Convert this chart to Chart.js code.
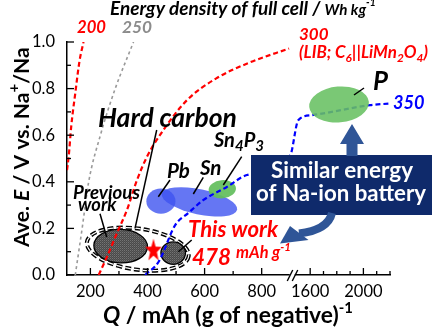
<!DOCTYPE html>
<html>
<head>
<meta charset="utf-8">
<script src="https://cdn.jsdelivr.net/npm/chart.js@4.4.1/dist/chart.umd.min.js"></script>
<style>
html,body{margin:0;padding:0;background:#fff;overflow:hidden}
#c{display:block}
</style>
</head>
<body>
<canvas id="c" width="432" height="334" style="width:432px;height:334px"></canvas>
<script>
// ---------------- data ----------------
// iso-energy-density curves of the full cell (Wh/kg): capacity (mAh/g) vs. average potential (V)
const curve200X = [118, 124, 133, 147, 162, 176];
const curve200Y = [0.45, 0.51, 0.64, 0.78, 0.92, 1.0];
const curve250X = [147, 171, 194, 235, 287, 351];
const curve250Y = [0.0, 0.20, 0.40, 0.60, 0.80, 1.0];
const curve300X = [229, 258, 293, 328, 363, 398, 455, 538, 641, 760, 896];
const curve300Y = [0.0, 0.078, 0.180, 0.279, 0.407, 0.507, 0.621, 0.750, 0.844, 0.913, 0.972];
const curve350X = [392, 439, 497, 543, 595, 678, 748, 900, 1510, 1613, 2050, 2200];
const curve350Y = [0.0, 0.057, 0.214, 0.266, 0.321, 0.378, 0.429, 0.514, 0.664, 0.686, 0.729, 0.736];

// material regions (ellipses): centre capacity / potential and half-spreads
const regionNames      = ['Previous + this work', 'Hard carbon (previous)', 'Hard carbon (this work)', 'Pb', 'Sn', 'Sn4P3', 'P'];
const regionCapacity   = [366, 306, 490, 447, 582, 662, 1817];
const regionVoltage    = [0.111, 0.124, 0.094, 0.317, 0.314, 0.368, 0.732];
const regionCapSpread  = [180, 94, 43, 51, 135, 48, 225];
const regionVoltSpread = [0.088, 0.072, 0.048, 0.054, 0.054, 0.039, 0.077];

// red star point
const starCapacity = [421];
const starVoltage  = [0.107];

// tick labels
const xTickLabels = [200, 400, 600, 800, 1600, 2000];
const yTickLabels = [0.0, 0.2, 0.4, 0.6, 0.8, 1.0];

// ---------------- broken x axis ----------------
const BREAK_LO = 900, BREAK_HI = 1450, RIGHT_K = 0.466;
function u(x) { return x <= BREAK_LO ? x : BREAK_LO + (x - BREAK_HI) * RIGHT_K; }
function uInv(v) { return v <= BREAK_LO ? v : BREAK_HI + (v - BREAK_LO) / RIGHT_K; }
const xTickValues = [];
for (let v = 200; v <= 800; v += 100) xTickValues.push(v);
for (let v = 1600; v <= 2200; v += 100) xTickValues.push(v);
const yTickValues = [];
for (let k = 0; k <= 10; k++) yTickValues.push(k / 10);

const FONT = 'Lato, "Liberation Sans", sans-serif';
const RED = '#ff0000', BLUE = '#0000ff', GRAY = '#9a9a9a', ARROW = '#2f5597', NAVY = '#0f2a6b';

// ---------------- styles ----------------
const regionStyle = {
  'Previous + this work':   { stroke: '#000', dash: [6, 3], width: 4, double: true, rot: 8 },
  'Hard carbon (previous)': { fill: 'pattern', stroke: '#000', width: 1.3, rot: 2 },
  'Hard carbon (this work)':{ fill: 'pattern', stroke: '#000', width: 1.3, rot: 0 },
  'Pb':    { fill: 'rgba(62,84,240,0.8)', rot: 0 },
  'Sn':    { fill: 'rgba(62,84,240,0.8)', rot: 12 },
  'Sn4P3': { fill: 'rgba(98,190,92,0.92)', rot: -5 },
  'P':     { fill: 'rgba(104,192,98,0.88)', rot: -5, layer: 'over' }
};

function grayPattern(ctx) {
  const c = document.createElement('canvas'); c.width = 2; c.height = 2;
  const g = c.getContext('2d');
  g.fillStyle = '#4a4a4a'; g.fillRect(0, 0, 2, 2);
  g.fillStyle = '#747474'; g.fillRect(0, 0, 1, 1);
  g.fillStyle = '#5c5c5c'; g.fillRect(1, 1, 1, 1);
  return ctx.createPattern(c, 'repeat');
}

function starImage() {
  const c = document.createElement('canvas'); c.width = 20; c.height = 26;
  const g = c.getContext('2d');
  g.fillStyle = RED; g.beginPath();
  for (let k = 0; k < 10; k++) {
    const r = k % 2 ? 5 : 12;
    const a = -Math.PI / 2 + k * Math.PI / 5;
    g.lineTo(10 + r * Math.cos(a) * 0.72, 13.5 + r * Math.sin(a));
  }
  g.closePath(); g.fill();
  return c;
}

function curve(label, xs, ys, color, dash, width) {
  return {
    label, showLine: true, data: xs.map((x, i) => ({ x: u(x), y: ys[i] })),
    borderColor: color, borderWidth: width, borderDash: dash, pointRadius: 0,
    cubicInterpolationMode: 'monotone', fill: false
  };
}

// ---------------- text helper ----------------
function richText(ctx, segs, x, y, o) {
  const fam = o.family || FONT;
  const fontFor = (sz, ital) => `${ital ? 'italic ' : ''}${o.weight || 'bold'} ${sz}px ${fam}`;
  let base = o.size;
  const measure = (b) => segs.reduce((w, s) => {
    ctx.font = fontFor(b * (s[1] || 1), s[3] !== undefined ? s[3] : o.italic);
    return w + ctx.measureText(s[0]).width;
  }, 0);
  if (o.width) base = base * o.width / measure(base);
  let cx = x;
  ctx.fillStyle = o.color || '#000';
  ctx.textBaseline = 'alphabetic'; ctx.textAlign = 'left';
  for (const s of segs) {
    const sz = base * (s[1] || 1);
    ctx.font = fontFor(sz, s[3] !== undefined ? s[3] : o.italic);
    const dy = s[2] === 'sub' ? base * 0.22 : s[2] === 'sup' ? -base * 0.45 : 0;
    ctx.fillText(s[0], cx, y + dy);
    cx += ctx.measureText(s[0]).width;
  }
}

// annotation texts (placement in canvas pixels)
const notes = [
  { segs: [['Energy density of full cell / '], ['Wh kg', 0.8], ['-1', 0.55, 'sup']], x: 110, y: 14.5, w: 266, size: 16, italic: true },
  { segs: [['200']], x: 77, y: 33, w: 29, size: 16, italic: true, color: RED },
  { segs: [['250']], x: 122, y: 33, w: 30, size: 16, italic: true, color: '#8c8c8c' },
  { segs: [['300']], x: 299, y: 39.5, w: 29.5, size: 16, italic: true, color: RED },
  { segs: [['(LIB; C'], ['6', 0.7, 'sub'], ['||LiMn'], ['2', 0.7, 'sub'], ['O'], ['4', 0.7, 'sub'], [')']], x: 299, y: 58, w: 129, size: 13, italic: true, color: RED },
  { segs: [['P']], x: 373, y: 90, w: 15, size: 20, italic: true },
  { segs: [['350']], x: 393, y: 108.5, w: 31.5, size: 16, italic: true, color: BLUE },
  { segs: [['Hard carbon']], x: 98, y: 127, w: 139, size: 24, italic: true },
  { segs: [['Sn'], ['4', 0.75, 'sub'], ['P'], ['3', 0.75, 'sub']], x: 214, y: 147, w: 50, size: 19, italic: true },
  { segs: [['Sn']], x: 200, y: 175, size: 20.5, italic: true },
  { segs: [['Pb']], x: 167, y: 178, size: 20.5, italic: true },
  { segs: [['Previous']], x: 73, y: 198.5, w: 67, size: 15, italic: true },
  { segs: [['work']], x: 78, y: 211, w: 38.5, size: 15, italic: true },
  { segs: [['This work']], x: 188, y: 237, w: 90, size: 20, italic: true, color: RED },
  { segs: [['478']], x: 192, y: 265, w: 39, size: 25, italic: true, color: RED },
  { segs: [['mAh g'], ['-1', 0.7, 'sup']], x: 236, y: 258, w: 55, size: 13, italic: true, color: RED },
  { segs: [['Similar energy']], x: 271, y: 178, w: 142, size: 20, color: '#fff' },
  { segs: [['of Na-ion battery']], x: 256, y: 200.5, w: 170, size: 20, color: '#fff' },
  { segs: [['Q', 1, '', true], [' / mAh (g of negative)'], ['-1', 0.65, 'sup']], x: 103, y: 323, w: 250, size: 20 }
];
const yTitle = { segs: [['Ave. '], ['E', 1, '', true], [' / V vs. Na'], ['+', 0.7, 'sup'], ['/Na']], bx: 29, by: 247, w: 200, size: 20 };

// leader lines (canvas pixels)
const leaders = [
  [354, 95, 364, 88], [156.7, 130, 135, 228.3], [241.7, 156.7, 223.3, 185],
  [203.3, 177.3, 193.3, 194], [170, 180, 158.3, 196.7], [100, 213.7, 106.7, 237],
  [178.3, 251.7, 191.7, 240]
];

function drawRegions(chart, layer) {
  const { ctx } = chart; const xs = chart.scales.x, ys = chart.scales.y;
  regionNames.forEach((name, i) => {
    const st = regionStyle[name];
    if ((st.layer || 'under') !== layer) return;
    const cx = xs.getPixelForValue(u(regionCapacity[i]));
    const cy = ys.getPixelForValue(regionVoltage[i]);
    const rx = Math.abs(xs.getPixelForValue(u(regionCapacity[i] + regionCapSpread[i])) - cx);
    const ry = Math.abs(ys.getPixelForValue(regionVoltage[i] + regionVoltSpread[i]) - cy);
    ctx.save();
    ctx.beginPath();
    ctx.ellipse(cx, cy, rx, ry, (st.rot || 0) * Math.PI / 180, 0, 2 * Math.PI);
    if (st.fill) { ctx.fillStyle = st.fill === 'pattern' ? grayPattern(ctx) : st.fill; ctx.fill(); }
    if (st.stroke) {
      ctx.setLineDash(st.dash || []); ctx.lineWidth = st.width; ctx.strokeStyle = st.stroke; ctx.stroke();
      if (st.double) { ctx.lineWidth = 1.2; ctx.strokeStyle = '#fff'; ctx.stroke(); }
    }
    ctx.restore();
  });
}

const decor = {
  id: 'decor',
  beforeDatasetsDraw(chart) { drawRegions(chart, 'under'); },
  afterDatasetsDraw(chart) {
    const { ctx, chartArea: ca } = chart; const xs = chart.scales.x, ys = chart.scales.y;
    drawRegions(chart, 'over');
    ctx.save();
    // inward ticks
    ctx.strokeStyle = '#000'; ctx.lineWidth = 1.3; ctx.setLineDash([]);
    ys.ticks.forEach(t => {
      const major = yTickLabels.some(v => Math.abs(v - t.value) < 1e-6);
      const py = ys.getPixelForValue(t.value);
      ctx.beginPath(); ctx.moveTo(ca.left, py); ctx.lineTo(ca.left + (major ? 7 : 4), py); ctx.stroke();
    });
    xs.ticks.forEach(t => {
      const val = Math.round(uInv(t.value));
      const major = xTickLabels.includes(val);
      const px = xs.getPixelForValue(t.value);
      ctx.beginPath(); ctx.moveTo(px, ca.bottom); ctx.lineTo(px, ca.bottom - (major ? 7 : 4)); ctx.stroke();
    });
    // axis break
    const bx = xs.getPixelForValue(BREAK_LO);
    ctx.fillStyle = '#fff'; ctx.fillRect(bx - 0.5, ca.bottom - 3, 5, 6);
    ctx.lineWidth = 1.4;
    ctx.beginPath(); ctx.moveTo(bx - 3, ca.bottom + 6); ctx.lineTo(bx + 2.5, ca.bottom - 5); ctx.stroke();
    ctx.beginPath(); ctx.moveTo(bx + 2, ca.bottom + 6); ctx.lineTo(bx + 7.5, ca.bottom - 5); ctx.stroke();
    // leader lines
    ctx.lineWidth = 1.5; ctx.strokeStyle = '#000';
    leaders.forEach(l => { ctx.beginPath(); ctx.moveTo(l[0], l[1]); ctx.lineTo(l[2], l[3]); ctx.stroke(); });
    // message box
    ctx.fillStyle = NAVY; ctx.fillRect(251, 155, 181, 60);
    // up arrow
    ctx.fillStyle = ARROW;
    ctx.beginPath();
    [[352, 124], [364, 144], [357.5, 144], [357.5, 156], [346.5, 156], [346.5, 144], [340, 144]].forEach((p, k) => k ? ctx.lineTo(p[0], p[1]) : ctx.moveTo(p[0], p[1]));
    ctx.closePath(); ctx.fill();
    // curved arrow
    ctx.strokeStyle = ARROW; ctx.lineWidth = 8; ctx.lineCap = 'butt';
    ctx.beginPath(); ctx.moveTo(332, 213); ctx.quadraticCurveTo(328, 230, 299, 233.5); ctx.stroke();
    ctx.beginPath(); ctx.moveTo(280, 243.5); ctx.lineTo(290, 226); ctx.lineTo(308.5, 240); ctx.closePath(); ctx.fill();
    // texts
    notes.forEach(n => richText(ctx, n.segs, n.x, n.y, { width: n.w, size: n.size, italic: n.italic, color: n.color }));
    ctx.translate(yTitle.bx, yTitle.by); ctx.rotate(-Math.PI / 2);
    richText(ctx, yTitle.segs, 0, 0, { width: yTitle.w, size: yTitle.size });
    ctx.restore();
  }
};

new Chart(document.getElementById('c'), {
  type: 'scatter',
  data: {
    datasets: [
      curve('200 Wh/kg', curve200X, curve200Y, RED, [5, 3], 2.2),
      curve('250 Wh/kg', curve250X, curve250Y, GRAY, [3, 3], 1.6),
      curve('300 Wh/kg', curve300X, curve300Y, RED, [5, 3], 2.2),
      curve('350 Wh/kg', curve350X, curve350Y, BLUE, [5, 3], 2.2),
      { label: 'star', data: starCapacity.map((x, i) => ({ x: u(x), y: starVoltage[i] })), pointStyle: starImage(), pointRadius: 9, showLine: false }
    ]
  },
  options: {
    responsive: false, animation: false, events: [],
    layout: { padding: { top: 42, right: 42, bottom: 0, left: 0 } },
    plugins: { legend: { display: false }, tooltip: { enabled: false } },
    scales: {
      x: {
        type: 'linear', min: 118, max: u(2200),
        afterBuildTicks: s => { s.ticks = xTickValues.map(v => ({ value: u(v) })); },
        afterFit: s => { s.height = 59; },
        grid: { display: false, drawTicks: false },
        border: { display: true, color: '#000', width: 1.5 },
        ticks: {
          autoSkip: false, maxRotation: 0, padding: 7, color: '#000',
          font: { family: FONT, size: 16.5 },
          callback: v => { const r = Math.round(uInv(v)); return xTickLabels.includes(r) ? String(r) : ''; }
        }
      },
      y: {
        type: 'linear', min: 0, max: 1,
        afterBuildTicks: s => { s.ticks = yTickValues.map(v => ({ value: v })); },
        afterFit: s => { s.width = 67; },
        grid: { display: false, drawTicks: false },
        border: { display: true, color: '#000', width: 1.5 },
        ticks: {
          autoSkip: false, padding: 12, color: '#000',
          font: { family: FONT, size: 16.5 },
          callback: v => yTickLabels.some(t => Math.abs(t - v) < 1e-6) ? v.toFixed(1) : ''
        }
      }
    }
  },
  plugins: [decor]
});
</script>
</body>
</html>
